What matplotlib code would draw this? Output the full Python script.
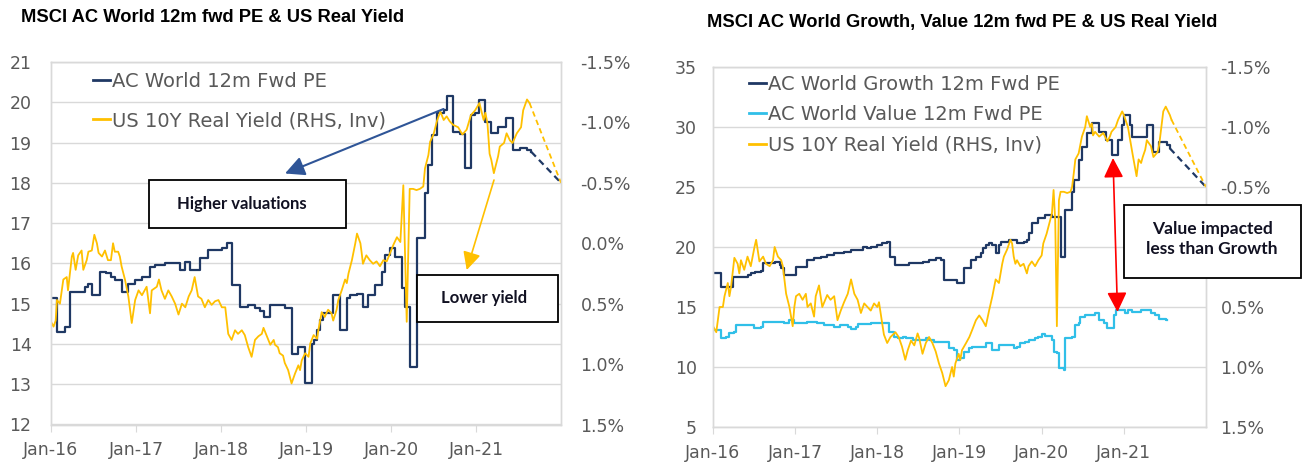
import matplotlib
matplotlib.use("Agg")
import matplotlib.pyplot as plt
from matplotlib.lines import Line2D
from matplotlib.patches import Rectangle, FancyArrowPatch

plt.rcParams['font.family'] = ['Liberation Sans', 'DejaVu Sans']

# ---------------- shared axis labels ----------------
x_ticks = [2016, 2017, 2018, 2019, 2020, 2021]
x_tick_labels = ['Jan-16', 'Jan-17', 'Jan-18', 'Jan-19', 'Jan-20', 'Jan-21']
yield_ticks = [-1.5, -1.0, -0.5, 0.0, 0.5, 1.0, 1.5]
left_yield_tick_labels = ['-1.5%', '-1.0%', '-0.5%', '0.0%', '0.5%', '1.0%', '1.5%']
# in the right chart the 0.0% label is hidden behind the annotation box
right_yield_tick_labels = ['-1.5%', '-1.0%', '-0.5%', '', '0.5%', '1.0%', '1.5%']
left_pe_ticks = [12, 13, 14, 15, 16, 17, 18, 19, 20, 21]
right_pe_ticks = [5, 10, 15, 20, 25, 30, 35]

# ---------------- left chart data ----------------
acwi_pe_t = [2016.00, 2016.07, 2016.165, 2016.22, 2016.40, 2016.44, 2016.48, 2016.58, 2016.65, 2016.71,
             2016.75, 2016.83, 2016.91, 2016.99, 2017.07, 2017.165, 2017.22, 2017.34, 2017.52, 2017.58,
             2017.64, 2017.75, 2017.85, 2018.01, 2018.07, 2018.13, 2018.22, 2018.32, 2018.40, 2018.46,
             2018.50, 2018.58, 2018.75, 2018.83, 2018.91, 2018.99, 2019.07, 2019.09, 2019.13, 2019.16,
             2019.20, 2019.32, 2019.40, 2019.48, 2019.52, 2019.60, 2019.67, 2019.73, 2019.81, 2019.89,
             2019.93, 2019.99, 2020.05, 2020.13, 2020.16, 2020.22, 2020.30, 2020.40, 2020.44, 2020.48,
             2020.54, 2020.62, 2020.66, 2020.73, 2020.81, 2020.87, 2020.94, 2020.99, 2021.04, 2021.11,
             2021.18, 2021.26, 2021.35, 2021.43, 2021.52, 2021.60, 2021.65]
acwi_pe = [15.13, 14.30, 14.42, 15.29, 15.42, 15.50, 15.21, 15.79, 15.75, 15.67,
           15.58, 15.29, 15.50, 15.58, 15.67, 15.92, 15.96, 16.00, 15.83, 16.04,
           15.83, 16.13, 16.33, 16.38, 16.50, 15.46, 14.92, 14.96, 14.88, 14.83,
           14.67, 14.96, 14.88, 13.76, 13.93, 13.02, 14.01, 14.10, 14.34, 14.59,
           14.76, 15.21, 14.34, 15.13, 15.21, 15.25, 14.92, 15.21, 15.46, 15.79,
           16.20, 16.37, 16.16, 15.40, 14.92, 13.43, 16.62, 17.74, 18.44, 19.19,
           19.73, 19.81, 20.16, 19.27, 19.20, 18.36, 19.68, 19.73, 20.06, 19.52,
           19.23, 19.39, 19.60, 18.81, 18.86, 18.81, 18.77]
acwi_pe_proj_t = [2021.65, 2022.0]
acwi_pe_proj = [18.77, 18.0]

ry_left_t = [2016.00, 2016.03, 2016.055, 2016.07, 2016.105, 2016.145, 2016.185, 2016.20, 2016.245, 2016.26,
             2016.29, 2016.32, 2016.36, 2016.38, 2016.42, 2016.44, 2016.48, 2016.51, 2016.54, 2016.56,
             2016.60, 2016.635, 2016.67, 2016.705, 2016.73, 2016.75, 2016.79, 2016.81, 2016.83, 2016.87,
             2016.91, 2016.95, 2016.99, 2017.03, 2017.07, 2017.125, 2017.165, 2017.185, 2017.245, 2017.27,
             2017.30, 2017.34, 2017.38, 2017.42, 2017.46, 2017.50, 2017.54, 2017.58, 2017.62, 2017.655,
             2017.69, 2017.73, 2017.77, 2017.81, 2017.85, 2017.89, 2017.93, 2017.97, 2018.01, 2018.05,
             2018.085, 2018.125, 2018.165, 2018.20, 2018.245, 2018.28, 2018.32, 2018.36, 2018.40, 2018.44,
             2018.48, 2018.50, 2018.54, 2018.58, 2018.62, 2018.635, 2018.67, 2018.69, 2018.73, 2018.75,
             2018.79, 2018.83, 2018.87, 2018.91, 2018.93, 2018.95, 2018.99, 2019.03, 2019.05, 2019.09,
             2019.13, 2019.145, 2019.185, 2019.22, 2019.26, 2019.30, 2019.32, 2019.36, 2019.38, 2019.42,
             2019.46, 2019.48, 2019.50, 2019.54, 2019.58, 2019.60, 2019.64, 2019.655, 2019.67, 2019.71,
             2019.75, 2019.79, 2019.83, 2019.87, 2019.91, 2019.95, 2019.99, 2020.03, 2020.07, 2020.11,
             2020.145, 2020.185, 2020.22, 2020.26, 2020.30, 2020.34, 2020.38, 2020.40, 2020.44, 2020.46,
             2020.50, 2020.54, 2020.58, 2020.62, 2020.655, 2020.69, 2020.73, 2020.79, 2020.84, 2020.89,
             2020.94, 2020.99, 2021.04, 2021.09, 2021.11, 2021.135, 2021.16, 2021.18, 2021.21, 2021.26,
             2021.28, 2021.33, 2021.36, 2021.40, 2021.43, 2021.48, 2021.53, 2021.555, 2021.60, 2021.63]
ry_left = [0.65, 0.69, 0.64, 0.47, 0.50, 0.30, 0.28, 0.39, 0.11, 0.08,
           0.22, 0.10, 0.06, 0.22, 0.14, 0.07, 0.06, -0.07, 0.00, 0.08,
           0.11, 0.06, 0.14, 0.14, 0.00, 0.07, 0.07, 0.11, 0.19, 0.30,
           0.44, 0.66, 0.47, 0.39, 0.43, 0.36, 0.58, 0.39, 0.36, 0.30,
           0.39, 0.46, 0.39, 0.44, 0.50, 0.59, 0.50, 0.53, 0.44, 0.39,
           0.28, 0.44, 0.46, 0.53, 0.47, 0.51, 0.48, 0.47, 0.53, 0.53,
           0.75, 0.80, 0.72, 0.75, 0.72, 0.76, 0.86, 0.94, 0.80, 0.77,
           0.75, 0.70, 0.77, 0.84, 0.80, 0.84, 0.86, 0.91, 0.93, 0.99,
           1.05, 1.16, 1.08, 1.01, 1.05, 0.97, 0.91, 0.94, 0.83, 0.76,
           0.79, 0.72, 0.57, 0.61, 0.55, 0.58, 0.64, 0.55, 0.47, 0.39,
           0.30, 0.33, 0.25, 0.14, 0.00, -0.08, 0.00, 0.08, 0.17, 0.10,
           0.14, 0.17, 0.15, 0.19, 0.14, 0.15, 0.08, 0.01, -0.05, -0.01,
           -0.48, 0.65, -0.45, -0.45, -0.44, -0.45, -0.47, -0.62, -0.73, -0.84,
           -0.90, -1.01, -1.09, -1.02, -1.05, -1.01, -0.98, -0.96, -0.90, -0.94,
           -1.06, -1.10, -1.16, -1.02, -1.08, -0.99, -0.74, -0.69, -0.58, -0.72,
           -0.80, -0.83, -0.91, -0.85, -0.83, -0.91, -0.96, -1.10, -1.19, -1.16]
ry_left_proj_t = [2021.63, 2022.0]
ry_left_proj = [-1.16, -0.5]

# ---------------- right chart data ----------------
growth_t = [2016.00, 2016.10, 2016.24, 2016.42, 2016.46, 2016.51, 2016.58, 2016.61, 2016.75, 2016.81,
            2016.83, 2016.87, 2017.01, 2017.15, 2017.23, 2017.31, 2017.39, 2017.475, 2017.60, 2017.68,
            2017.82, 2017.88, 2017.92, 2018.00, 2018.06, 2018.12, 2018.16, 2018.22, 2018.39, 2018.55,
            2018.63, 2018.71, 2018.77, 2018.81, 2018.97, 2019.05, 2019.14, 2019.20, 2019.26, 2019.28,
            2019.32, 2019.36, 2019.40, 2019.44, 2019.48, 2019.50, 2019.60, 2019.70, 2019.78, 2019.82,
            2019.84, 2019.88, 2019.96, 2020.04, 2020.12, 2020.23, 2020.29, 2020.37, 2020.39, 2020.45,
            2020.49, 2020.55, 2020.61, 2020.70, 2020.78, 2020.85, 2020.93, 2020.98, 2021.00, 2021.08,
            2021.10, 2021.28, 2021.36, 2021.43, 2021.53, 2021.56]
growth_pe = [17.86, 16.69, 17.53, 17.67, 17.81, 17.90, 18.00, 18.64, 18.78, 18.50,
             18.22, 17.67, 18.36, 18.92, 19.06, 19.20, 19.33, 19.47, 19.60, 19.75,
             20.03, 19.89, 20.03, 20.17, 20.31, 20.44, 19.19, 18.50, 18.64, 18.78,
             18.92, 19.06, 18.92, 17.25, 16.97, 18.22, 18.92, 19.20, 19.47, 19.89,
             20.17, 20.31, 20.17, 19.47, 20.17, 20.44, 20.58, 20.31, 20.44, 20.58,
             21.14, 21.97, 22.39, 22.67, 22.53, 19.19, 23.08, 24.61, 25.58, 27.25,
             28.36, 29.47, 30.30, 29.61, 28.92, 27.67, 28.92, 30.17, 31.00, 30.17,
             29.19, 30.17, 27.94, 28.78, 28.50, 28.22]
growth_proj_t = [2021.56, 2022.0]
growth_proj = [28.22, 25.0]

value_t = [2016.00, 2016.10, 2016.16, 2016.20, 2016.26, 2016.28, 2016.505, 2016.585, 2016.61, 2016.87,
           2016.93, 2016.99, 2017.15, 2017.27, 2017.35, 2017.475, 2017.54, 2017.64, 2017.68, 2017.74,
           2017.76, 2017.92, 2018.14, 2018.20, 2018.25, 2018.31, 2018.35, 2018.43, 2018.59, 2018.63,
           2018.69, 2018.87, 2018.93, 2018.97, 2019.01, 2019.05, 2019.12, 2019.155, 2019.32, 2019.40,
           2019.48, 2019.66, 2019.70, 2019.74, 2019.80, 2019.84, 2019.92, 2019.96, 2020.00, 2020.04,
           2020.12, 2020.145, 2020.19, 2020.21, 2020.27, 2020.29, 2020.37, 2020.41, 2020.45, 2020.47,
           2020.53, 2020.65, 2020.70, 2020.76, 2020.80, 2020.88, 2020.90, 2021.02, 2021.05, 2021.10,
           2021.21, 2021.33, 2021.38, 2021.43, 2021.51, 2021.53]
value_pe = [13.08, 12.39, 12.53, 12.80, 12.94, 13.50, 13.22, 13.36, 13.78, 13.64,
            13.92, 13.64, 13.78, 13.64, 13.50, 13.36, 13.50, 13.36, 13.14, 13.36,
            13.58, 13.69, 12.94, 12.53, 12.39, 12.53, 12.39, 12.25, 12.39, 12.25,
            12.11, 11.56, 11.42, 10.58, 10.72, 11.28, 11.56, 11.69, 11.97, 11.42,
            11.83, 11.56, 11.69, 11.97, 12.11, 12.25, 12.39, 12.53, 12.75, 12.58,
            12.25, 11.28, 11.14, 9.89, 9.75, 12.39, 12.53, 13.50, 13.64, 14.19,
            14.33, 14.47, 13.92, 13.64, 13.22, 14.33, 14.75, 14.47, 14.75, 14.60,
            14.75, 14.47, 14.33, 14.03, 13.92, 13.92]

ry_right_t = [2016.00, 2016.04, 2016.08, 2016.12, 2016.14, 2016.18, 2016.20, 2016.22, 2016.26, 2016.30,
              2016.32, 2016.34, 2016.38, 2016.42, 2016.46, 2016.505, 2016.525, 2016.565, 2016.61, 2016.645,
              2016.69, 2016.73, 2016.75, 2016.79, 2016.83, 2016.85, 2016.89, 2016.93, 2016.97, 2016.99,
              2017.01, 2017.05, 2017.09, 2017.13, 2017.15, 2017.19, 2017.23, 2017.25, 2017.29, 2017.33,
              2017.39, 2017.43, 2017.475, 2017.515, 2017.555, 2017.595, 2017.64, 2017.68, 2017.72, 2017.76,
              2017.80, 2017.84, 2017.88, 2017.92, 2017.96, 2018.00, 2018.02, 2018.04, 2018.08, 2018.12,
              2018.16, 2018.22, 2018.26, 2018.30, 2018.34, 2018.37, 2018.41, 2018.45, 2018.49, 2018.51,
              2018.55, 2018.59, 2018.63, 2018.67, 2018.71, 2018.75, 2018.79, 2018.83, 2018.87, 2018.91,
              2018.93, 2018.95, 2018.97, 2018.99, 2019.01, 2019.03, 2019.08, 2019.12, 2019.155, 2019.20,
              2019.24, 2019.28, 2019.32, 2019.36, 2019.40, 2019.44, 2019.48, 2019.52, 2019.54, 2019.58,
              2019.62, 2019.64, 2019.66, 2019.68, 2019.70, 2019.74, 2019.78, 2019.82, 2019.84, 2019.88,
              2019.92, 2019.96, 2020.00, 2020.02, 2020.06, 2020.125, 2020.145, 2020.165, 2020.185, 2020.21,
              2020.23, 2020.27, 2020.31, 2020.35, 2020.37, 2020.39, 2020.41, 2020.45, 2020.49, 2020.53,
              2020.55, 2020.59, 2020.61, 2020.625, 2020.65, 2020.70, 2020.75, 2020.80, 2020.83, 2020.85,
              2020.90, 2020.93, 2020.98, 2021.00, 2021.05, 2021.105, 2021.155, 2021.18, 2021.21, 2021.23,
              2021.26, 2021.28, 2021.33, 2021.36, 2021.41, 2021.43, 2021.48, 2021.51, 2021.56, 2021.58]
ry_right = [0.66, 0.71, 0.50, 0.50, 0.41, 0.30, 0.41, 0.33, 0.09, 0.14,
            0.22, 0.11, 0.19, 0.08, 0.16, 0.00, -0.06, 0.12, 0.08, 0.14,
            0.16, 0.11, 0.00, 0.08, 0.11, 0.16, 0.39, 0.50, 0.66, 0.50,
            0.41, 0.39, 0.44, 0.39, 0.50, 0.47, 0.58, 0.41, 0.32, 0.50,
            0.40, 0.44, 0.41, 0.61, 0.53, 0.46, 0.39, 0.27, 0.39, 0.44,
            0.55, 0.47, 0.50, 0.53, 0.47, 0.50, 0.46, 0.55, 0.73, 0.80,
            0.75, 0.71, 0.75, 0.83, 0.94, 0.86, 0.78, 0.82, 0.72, 0.76,
            0.89, 0.80, 0.75, 0.80, 0.87, 0.97, 1.05, 1.16, 1.11, 1.00,
            1.08, 0.97, 0.93, 0.89, 0.94, 0.86, 0.80, 0.75, 0.69, 0.61,
            0.57, 0.61, 0.66, 0.53, 0.41, 0.27, 0.30, 0.14, 0.08, 0.02,
            -0.06, -0.03, 0.08, 0.14, 0.11, 0.16, 0.14, 0.22, 0.16, 0.12,
            0.16, 0.11, 0.07, -0.03, -0.11, -0.28, -0.475, -0.22, 0.66, -0.39,
            -0.46, -0.46, -0.45, -0.46, -0.50, -0.61, -0.73, -0.78, -0.92, -1.00,
            -1.09, -1.00, -1.03, -0.93, -0.96, -0.92, -0.95, -0.88, -0.92, -0.96,
            -1.00, -1.06, -1.13, -1.10, -1.00, -0.78, -0.59, -0.73, -0.70, -0.75,
            -0.81, -0.89, -0.84, -0.75, -0.79, -0.85, -1.13, -1.17, -1.10, -1.06]
ry_right_proj_t = [2021.58, 2022.0]
ry_right_proj = [-1.06, -0.5]

# ---------------- styling ----------------
NAVY = '#1f3864'
GOLD = '#ffc000'
CYAN = '#30bfe8'
GRID = '#d9d9d9'
TXT = '#595959'
AXFONT = ['DejaVu Sans']
W, H = 1309, 463

fig = plt.figure(figsize=(W / 100, H / 100), dpi=100)
fig.patch.set_facecolor('white')


def rect(l, t, r, b):
    return [l / W, 1 - b / H, (r - l) / W, (b - t) / H]


def fp(x, y):
    return (x / W, 1 - y / H)


def style(ax, ax2, pe_ticks, pe_lim, yld_labels, pad_l, pad_r):
    for a in (ax, ax2):
        for s in a.spines.values():
            s.set_color(GRID)
            s.set_linewidth(1.0)
    ax.set_xlim(2016, 2022)
    ax.set_xticks(x_ticks)
    ax.set_xticklabels(x_tick_labels)
    ax.set_ylim(*pe_lim)
    ax.set_yticks(pe_ticks)
    ax.grid(axis='y', color=GRID, lw=1.0)
    ax.set_axisbelow(True)
    ax2.set_ylim(1.5, -1.5)
    ax2.set_yticks(yield_ticks)
    ax2.set_yticklabels(yld_labels)
    ax.tick_params(axis='y', length=0, pad=pad_l, labelsize=12.5, labelcolor=TXT)
    ax2.tick_params(axis='y', length=0, pad=pad_r, labelsize=12.5, labelcolor=TXT)
    ax.tick_params(axis='x', length=5, color=GRID, pad=7, labelsize=12.5, labelcolor=TXT)
    for lab in ax.get_xticklabels() + ax.get_yticklabels() + ax2.get_yticklabels():
        lab.set_family(AXFONT)


# ----- left chart -----
axL = fig.add_axes(rect(51, 62, 561, 424.5))
axL2 = axL.twinx()
style(axL, axL2, left_pe_ticks, (12, 21), left_yield_tick_labels, 14, 14)
axL.plot(acwi_pe_t, acwi_pe, drawstyle='steps-post', color=NAVY, lw=1.6)
axL.plot(acwi_pe_proj_t, acwi_pe_proj, color=NAVY, lw=1.6, ls=(0, (3, 2)))
axL2.plot(ry_left_t, ry_left, color=GOLD, lw=1.3)
axL2.plot(ry_left_proj_t, ry_left_proj, color=GOLD, lw=1.3, ls=(0, (3, 2)))

fig.text(21 / W, 1 - 18 / H, 'MSCI AC World 12m fwd PE & US Real Yield',
         fontsize=13.2, fontweight='bold', ha='left', va='center')
fig.legend([Line2D([], [], color=NAVY, lw=2), Line2D([], [], color=GOLD, lw=2)],
           ['AC World 12m Fwd PE', 'US 10Y Real Yield (RHS, Inv)'],
           loc='upper left', bbox_to_anchor=(93 / W, 1 - 72 / H), frameon=False,
           prop={'family': AXFONT, 'size': 14}, handlelength=0.85, handletextpad=0.12,
           labelspacing=1.03, borderpad=0, borderaxespad=0, labelcolor=TXT)

fig.add_artist(FancyArrowPatch(fp(443.5, 109), fp(285, 173.5), transform=fig.transFigure,
                               arrowstyle='-|>,head_length=0.9,head_width=0.45', mutation_scale=13,
                               color='#2f5597', lw=1.5, shrinkA=0, shrinkB=0))
fig.add_artist(FancyArrowPatch(fp(494, 180), fp(466.7, 270), transform=fig.transFigure,
                               arrowstyle='-|>,head_length=0.9,head_width=0.45', mutation_scale=12,
                               color=GOLD, lw=1.2, shrinkA=0, shrinkB=0))
l, b, w, h = rect(149, 180, 346, 228)
fig.add_artist(Rectangle((l, b), w, h, transform=fig.transFigure, facecolor='white',
                         edgecolor='black', lw=1.3, zorder=5))
fig.text(242 / W, 1 - 204 / H, 'Higher valuations', fontsize=12, fontweight='bold',
         family=['Lato', 'DejaVu Sans'], color='#111122', ha='center', va='center', zorder=6)
l, b, w, h = rect(416.7, 275, 558, 321.7)
fig.add_artist(Rectangle((l, b), w, h, transform=fig.transFigure, facecolor='white',
                         edgecolor='black', lw=1.3, zorder=5))
fig.text(484 / W, 1 - 298 / H, 'Lower yield', fontsize=12, fontweight='bold',
         family=['Lato', 'DejaVu Sans'], color='#111122', ha='center', va='center', zorder=6)

# ----- right chart -----
axR = fig.add_axes(rect(713, 67, 1206, 427))
axR2 = axR.twinx()
style(axR, axR2, right_pe_ticks, (5, 35), right_yield_tick_labels, 11.5, 10.5)
axR.plot(growth_t, growth_pe, drawstyle='steps-post', color=NAVY, lw=1.6)
axR.plot(growth_proj_t, growth_proj, color=NAVY, lw=1.6, ls=(0, (3, 2)))
axR.plot(value_t, value_pe, drawstyle='steps-post', color=CYAN, lw=1.6)
axR2.plot(ry_right_t, ry_right, color=GOLD, lw=1.3)
axR2.plot(ry_right_proj_t, ry_right_proj, color=GOLD, lw=1.3, ls=(0, (3, 2)))

fig.text(707 / W, 1 - 23 / H, 'MSCI AC World Growth, Value 12m fwd PE & US Real Yield',
         fontsize=13.2, fontweight='bold', ha='left', va='center')
fig.legend([Line2D([], [], color=NAVY, lw=2), Line2D([], [], color=CYAN, lw=2),
            Line2D([], [], color=GOLD, lw=2)],
           ['AC World Growth 12m Fwd PE', 'AC World Value 12m Fwd PE', 'US 10Y Real Yield (RHS, Inv)'],
           loc='upper left', bbox_to_anchor=(749 / W, 1 - 75 / H), frameon=False,
           prop={'family': AXFONT, 'size': 14}, handlelength=0.85, handletextpad=0.12,
           labelspacing=0.58, borderpad=0, borderaxespad=0, labelcolor=TXT)

fig.add_artist(FancyArrowPatch(fp(1113, 158), fp(1117.5, 312), transform=fig.transFigure,
                               arrowstyle='<|-|>,head_length=1.0,head_width=0.5', mutation_scale=12,
                               color='#ff0000', lw=1.2, shrinkA=0, shrinkB=0))
l, b, w, h = rect(1124, 205, 1301, 278)
fig.add_artist(Rectangle((l, b), w, h, transform=fig.transFigure, facecolor='white',
                         edgecolor='black', lw=1.3, zorder=5))
fig.text(1212 / W, 1 - 239 / H, 'Value impacted\nless than Growth', fontsize=12.5,
         fontweight='bold', family=['Lato', 'DejaVu Sans'], color='#111122',
         ha='center', va='center', multialignment='center', linespacing=1.3, zorder=6)

fig.savefig('out.png', dpi=100)
